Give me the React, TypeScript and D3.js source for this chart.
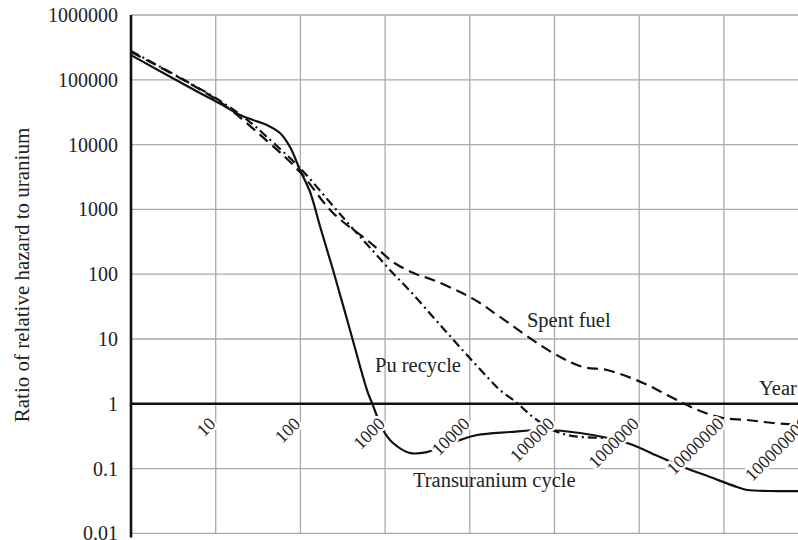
import React from "react";
import * as d3 from "d3";

// years after discharge, ratio of relative hazard to uranium
const transuraniumYears = [1, 6.5, 10.4, 19.4, 27.6, 40.3, 57.4, 75.4, 98.9, 130, 170, 243, 385, 611, 700, 945, 1240, 1970, 3120, 5380, 7660, 12200, 29800, 73200, 200000, 718000, 1.76e6, 3.29e6, 6.85e6, 1.43e7, 1.88e7, 4.24e7, 1e8];
const transuraniumRatio = [240000, 62500, 45400, 28600, 24000, 20000, 15100, 9190, 4060, 1860, 555, 116, 13.8, 1.63, 1.03, 0.394, 0.248, 0.174, 0.18, 0.231, 0.276, 0.33, 0.367, 0.394, 0.354, 0.248, 0.151, 0.106, 0.0742, 0.052, 0.0467, 0.045, 0.045];

const spentYears = [1, 10.4, 40.3, 98.9, 243, 611, 871, 1240, 2130, 3680, 7660, 13200, 22700, 96000, 217000, 417000, 1.11e6, 2.13e6, 3.66e6, 5.66e6, 9.75e6, 1.88e7, 3.8e7, 1e8];
const spentRatio = [268000, 48700, 11400, 3770, 879, 337, 228, 154, 105, 81.3, 53.1, 36, 21.9, 6.08, 3.7, 3.33, 2.1, 1.37, 0.957, 0.746, 0.604, 0.562, 0.506, 0.46];

const puYears = [1, 10.4, 25.4, 40.3, 98.9, 243, 418, 720, 1140, 1970, 3680, 5840, 9270, 16000, 22700, 36100, 55700, 96000, 141000, 200000, 417000];
const puRatio = [278000, 50600, 22300, 13100, 4350, 1130, 499, 228, 116, 55.1, 21.9, 11.1, 5.66, 2.6, 1.63, 1.03, 0.625, 0.394, 0.33, 0.308, 0.297];

const yTicks = [1000000, 100000, 10000, 1000, 100, 10, 1, 0.1, 0.01];
const xTicks = [10, 100, 1000, 10000, 100000, 1000000, 10000000, 100000000];

const font = "Liberation Serif, Tinos, Times New Roman, DejaVu Serif, serif";

export default function App() {
  const width = 798, height = 540;
  const left = 131, top = 15;

  const x = d3.scaleLog().domain([1, 1e8]).range([left, left + 8 * 84.7]);
  const y = d3.scaleLog().domain([1e6, 0.01]).range([top, top + 8 * 64.8]);

  const line = d3.line<[number, number]>()
    .x(d => x(d[0]))
    .y(d => y(d[1]))
    .curve(d3.curveCatmullRom.alpha(0.5));

  const zip = (a: number[], b: number[]) => a.map((v, i) => [v, b[i]] as [number, number]);

  const series = [
    { name: "spent", d: zip(spentYears, spentRatio), dash: "11,6" },
    { name: "pu", d: zip(puYears, puRatio), dash: "9,4,2,4" },
    { name: "tru", d: zip(transuraniumYears, transuraniumRatio), dash: null },
  ];

  const txt = { fontFamily: font, fill: "#222" } as React.CSSProperties;

  return (
    <svg width={width} height={height} style={{ position: "absolute", left: 0, top: 0, background: "#fff" }}>
      {/* grid */}
      <g stroke="#aaa" strokeWidth={1.3}>
        {yTicks.map(t => (
          <line key={"h" + t} x1={left} x2={width} y1={y(t)} y2={y(t)} />
        ))}
        {xTicks.map(t => (
          <line key={"v" + t} x1={x(t)} x2={x(t)} y1={top} y2={y(0.01)} />
        ))}
      </g>
      {/* curves */}
      {series.map(s => (
        <path key={s.name} d={line(s.d) || ""} fill="none" stroke="#111" strokeWidth={2.2}
          strokeDasharray={s.dash || undefined} />
      ))}
      {/* axes */}
      <line x1={left} x2={width} y1={y(1)} y2={y(1)} stroke="#111" strokeWidth={2.6} />
      <line x1={left} x2={left} y1={top} y2={y(0.01) + 4} stroke="#111" strokeWidth={2.6} />
      {/* y tick labels */}
      {yTicks.map(t => (
        <text key={"yl" + t} x={118} y={y(t)} dy="0.35em" textAnchor="end" style={{ ...txt, fontSize: 20 }}>
          {String(t)}
        </text>
      ))}
      {/* x tick labels along the year axis */}
      {xTicks.map(t => (
        <text key={"xl" + t} transform={`translate(${x(t) + 1},${y(1) + 21}) rotate(-45)`} textAnchor="end"
          style={{ ...txt, fontSize: 18, stroke: "#fff", strokeWidth: 5, paintOrder: "stroke" }}>
          {String(t)}
        </text>
      ))}
      <text transform={`translate(29,275) rotate(-90)`} textAnchor="middle" style={{ ...txt, fontSize: 21 }}>
        Ratio of relative hazard to uranium
      </text>
      <text x={x(47300)} y={y(15.3)} style={{ ...txt, fontSize: 20.5 }}>Spent fuel</text>
      <text x={x(760)} y={y(3.1)} style={{ ...txt, fontSize: 20.5 }}>Pu recycle</text>
      <text x={x(2130)} y={y(0.052)} style={{ ...txt, fontSize: 20.5 }}>Transuranium cycle</text>
      <text x={x(2.6e7)} y={y(1.37)} style={{ ...txt, fontSize: 20.5 }}>Year</text>
    </svg>
  );
}
